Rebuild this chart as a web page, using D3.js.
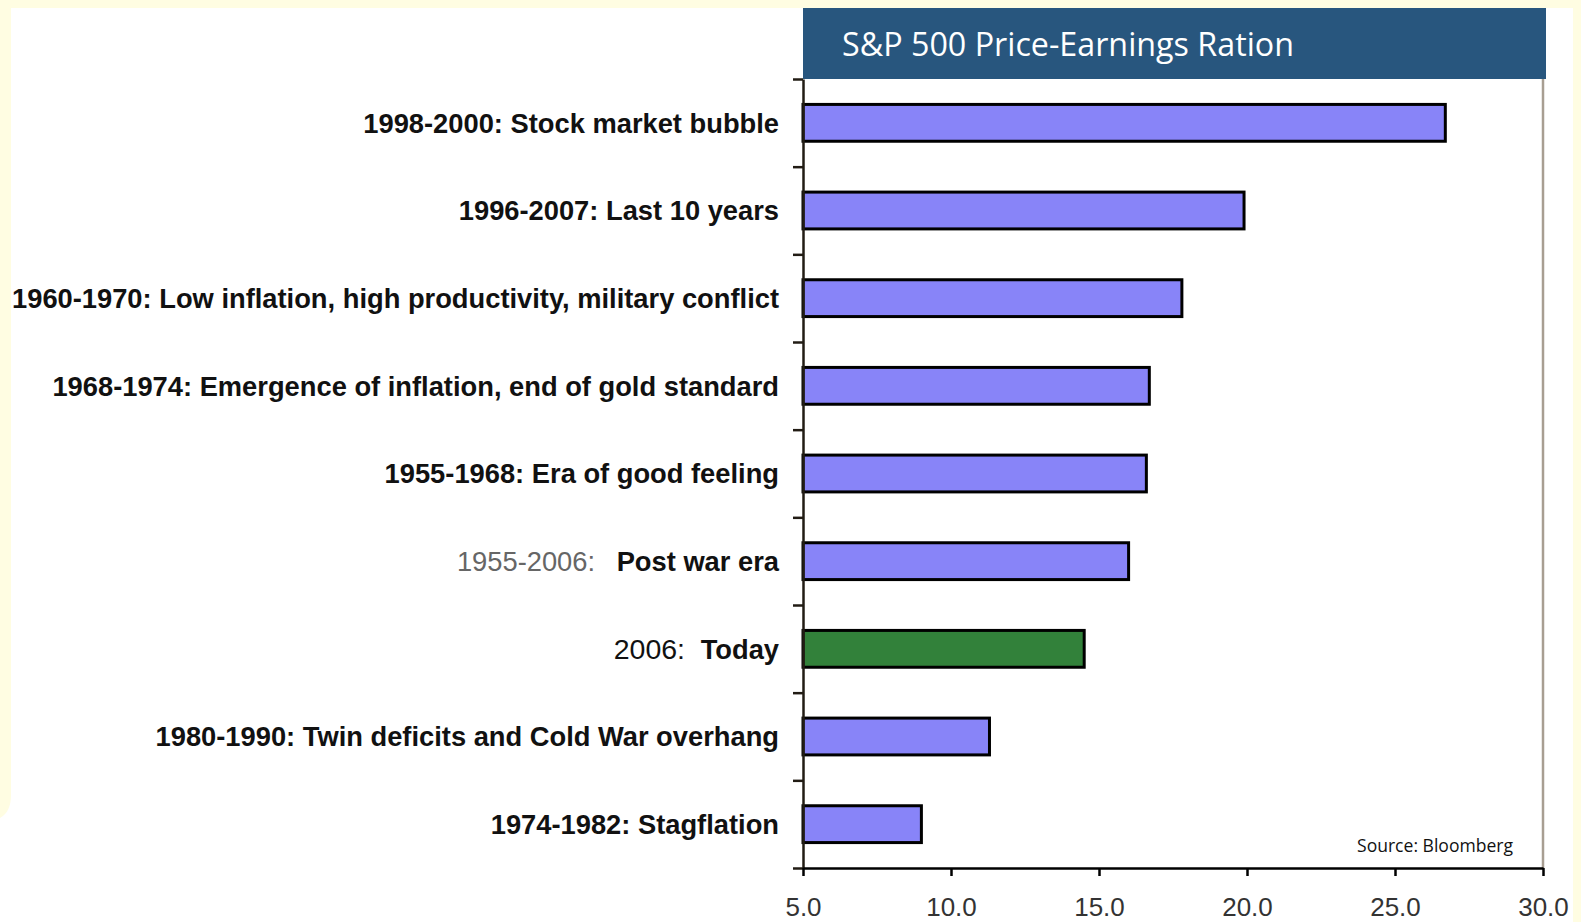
<!DOCTYPE html>
<html>
<head>
<meta charset="utf-8">
<script src="https://cdn.jsdelivr.net/npm/d3@7"></script>
<style>
  body { margin: 0; background: #fffde2; }
  svg { display: block; }
</style>
</head>
<body>
<div class="chart"></div>
<script>
//Data (top to bottom)
var periods = ["1998-2000:", "1996-2007:", "1960-1970:", "1968-1974:", "1955-1968:", "1955-2006:", "2006:", "1980-1990:", "1974-1982:"];
var descriptions = ["Stock market bubble", "Last 10 years", "Low inflation, high productivity, military conflict",
    "Emergence of inflation, end of gold standard", "Era of good feeling", "Post war era", "Today",
    "Twin deficits and Cold War overhang", "Stagflation"];
var peRatios = [26.7, 19.9, 17.8, 16.7, 16.6, 16.0, 14.5, 11.3, 9.0];
var xTicks = [5, 10, 15, 20, 25, 30];
var highlight = "2006:";

//Set up chart parameters
var svgWidth = 1581;
var svgHeight = 922;

var margin = {
    top: 79,
    right: 38,
    bottom: 54,
    left: 803
};

var width = svgWidth - margin.left - margin.right;
var height = svgHeight - margin.top - margin.bottom;

var svg = d3.select(".chart")
    .append("svg")
    .attr("width", svgWidth)
    .attr("height", svgHeight);

//Page frame: white panel on a pale yellow page
svg.append("rect")
    .attr("width", svgWidth)
    .attr("height", svgHeight)
    .attr("fill", "#fffde2");
svg.append("rect")
    .attr("x", 11)
    .attr("y", 8)
    .attr("width", 1562)
    .attr("height", svgHeight)
    .attr("fill", "#ffffff");
//bottom of the yellow left strip is rounded off, white below it
svg.append("path")
    .attr("d", "M11,795 Q11,812 0,818 L0,922 L11,922 Z")
    .attr("fill", "#ffffff");

var chartGroup = svg.append("g")
    .attr("transform", `translate(${margin.left}, ${margin.top})`);

//Scales
var xLinearScale = d3.scaleLinear()
    .domain([5, 30])
    .range([0, width]);

var yBandScale = d3.scaleBand()
    .domain(periods)
    .range([0, height])
    .paddingInner(0.58)
    .paddingOuter(0.29);

var yEdgeScale = d3.scaleLinear()
    .domain([0, periods.length])
    .range([0, height]);

//Plot frame right edge
chartGroup.append("line")
    .attr("x1", width)
    .attr("x2", width)
    .attr("y1", 0)
    .attr("y2", height)
    .attr("stroke", "#a89e92")
    .attr("stroke-width", 2.5);

//Title bar
svg.append("rect")
    .attr("x", 803)
    .attr("y", 8)
    .attr("width", 743)
    .attr("height", 71)
    .attr("fill", "#28567e");
svg.append("text")
    .attr("x", 842)
    .attr("y", 56)
    .attr("fill", "#ffffff")
    .attr("font-family", "'Open Sans', sans-serif")
    .attr("font-size", "32px")
    .attr("textLength", 452)
    .attr("lengthAdjust", "spacingAndGlyphs")
    .text("S&P 500 Price-Earnings Ration");

//Bars
chartGroup.selectAll("rect.bar")
    .data(peRatios)
    .enter()
    .append("rect")
    .attr("class", "bar")
    .attr("x", xLinearScale(5))
    .attr("y", (d, i) => yBandScale(periods[i]))
    .attr("width", d => xLinearScale(d) - xLinearScale(5))
    .attr("height", yBandScale.bandwidth())
    .attr("fill", (d, i) => periods[i] == highlight ? "#32813a" : "#8884f8")
    .attr("stroke", "#000")
    .attr("stroke-width", 3);

//Axes
var bottomAxis = d3.axisBottom(xLinearScale)
    .tickValues(xTicks)
    .tickFormat(d3.format(".1f"))
    .tickSizeInner(8)
    .tickSizeOuter(0);
var leftAxis = d3.axisLeft(yEdgeScale)
    .tickValues(d3.range(periods.length + 1))
    .tickFormat("")
    .tickSizeInner(10)
    .tickSizeOuter(0);

var yAxisGroup = chartGroup.append("g")
    .call(leftAxis);
yAxisGroup.selectAll("path, line")
    .attr("stroke", "#221c14")
    .attr("stroke-width", 2.5);

var xAxisGroup = chartGroup.append("g")
    .attr("transform", `translate(0, ${height})`)
    .call(bottomAxis);
xAxisGroup.selectAll("path, line")
    .attr("stroke", "#000")
    .attr("stroke-width", 2.5);
xAxisGroup.selectAll("text")
    .attr("y", 30)
    .attr("fill", "#333")
    .attr("font-family", "'Liberation Sans', Arial, sans-serif")
    .attr("font-size", "26px");

//Category labels
var labels = chartGroup.selectAll("text.label")
    .data(periods)
    .enter()
    .append("text")
    .attr("class", "label")
    .attr("x", -24)
    .attr("y", d => yBandScale(d) + yBandScale.bandwidth() / 2)
    .attr("dy", "0.36em")
    .attr("text-anchor", "end")
    .attr("font-family", "'Liberation Sans', Arial, sans-serif")
    .attr("font-size", "27.3px")
    .attr("fill", "#111");

labels.append("tspan")
    .attr("font-weight", (d, i) => (i == 5 || i == 6) ? "normal" : "bold")
    .attr("font-size", (d, i) => i == 6 ? "28.5px" : null)
    .attr("fill", (d, i) => i == 5 ? "#666" : "#111")
    .text(d => d);
labels.append("tspan")
    .attr("font-weight", "bold")
    .attr("dx", (d, i) => i == 5 ? 14 : (i == 6 ? 8 : 0))
    .text((d, i) => " " + descriptions[i]);

//Source note
chartGroup.append("text")
    .attr("x", 554)
    .attr("y", 773)
    .attr("fill", "#111")
    .attr("font-family", "'Open Sans', sans-serif")
    .attr("font-size", "19px")
    .attr("textLength", 156)
    .attr("lengthAdjust", "spacingAndGlyphs")
    .text("Source: Bloomberg");
</script>
</body>
</html>
